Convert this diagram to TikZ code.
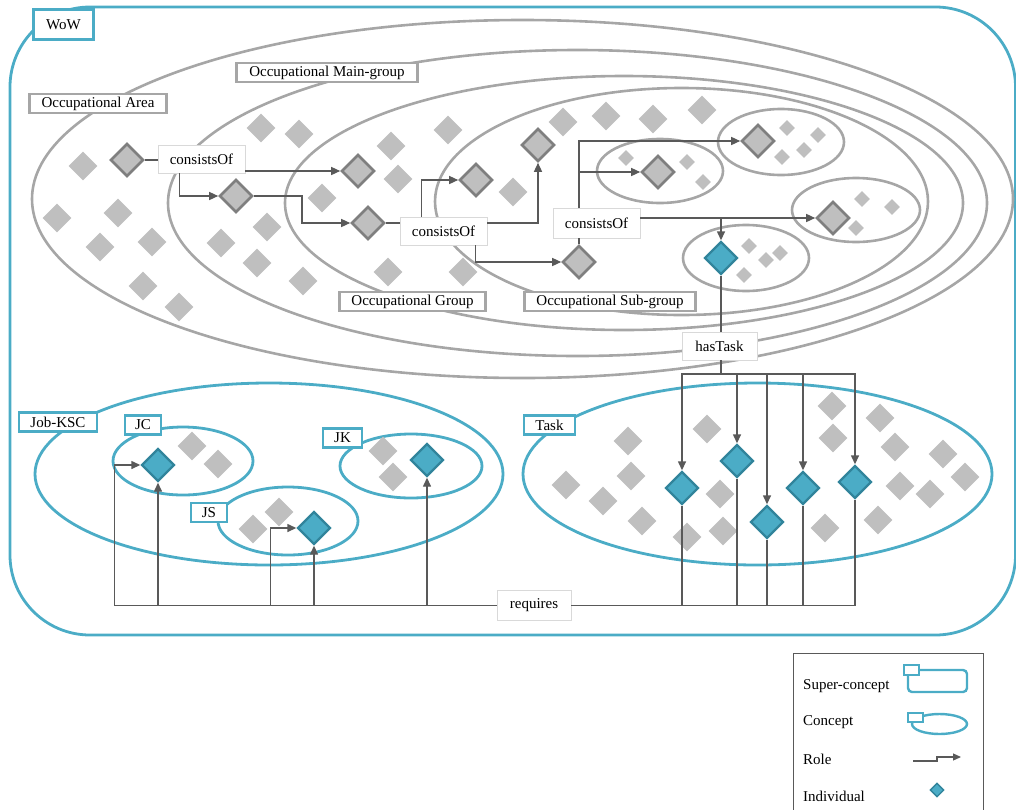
\documentclass[tikz,border=0pt]{standalone}
\usepackage{fontspec}
\setmainfont{Liberation Serif}
\usetikzlibrary{shapes.geometric,arrows.meta}
\definecolor{wowteal}{HTML}{4BACC6}
\definecolor{tealdark}{HTML}{31849B}
\definecolor{ringgray}{HTML}{A6A6A6}
\definecolor{dotgray}{HTML}{BFBFBF}
\definecolor{keygray}{HTML}{7F7F7F}
\definecolor{linkgray}{HTML}{595959}
\definecolor{boxgray}{HTML}{D9D9D9}
\begin{document}
\begin{tikzpicture}[x=1pt,y=-1pt,
  font=\fontsize{15pt}{18pt}\selectfont,
  ring/.style={draw=ringgray,line width=2.6pt},
  tring/.style={draw=wowteal,line width=2.8pt},
  glabel/.style={draw=ringgray,line width=2.6pt,fill=white,inner sep=0pt,minimum height=19pt},
  tlabel/.style={draw=wowteal,line width=2.8pt,fill=white,inner sep=0pt,minimum height=19pt},
  rolebox/.style={draw=boxgray,line width=0.9pt,fill=white,inner sep=0pt,minimum height=28pt},
  dot/.style={diamond,fill=dotgray,inner sep=0pt,minimum size=29pt},
  smalldot/.style={dot,minimum size=16pt},
  keydia/.style={diamond,fill=dotgray,draw=keygray,line width=2.6pt,inner sep=0pt,minimum size=33pt},
  inddia/.style={diamond,fill=wowteal,draw=tealdark,line width=2.4pt,inner sep=0pt,minimum size=33pt},
  link/.style={draw=linkgray,line width=1.4pt},
  arr/.style={link,-{Triangle[length=9pt,width=8pt]}},
  legtext/.style={anchor=west,inner sep=0pt}
]
\useasboundingbox (0,0) rectangle (1016,809);

% World of Work super-concept
\draw[tring,rounded corners=80pt] (10,7) rectangle (1015.5,635);

% nested occupational classification levels
\draw[ring] (522.5,199) ellipse [x radius=490.5pt, y radius=179pt];
\draw[ring] (577.5,203) ellipse [x radius=409.5pt, y radius=153pt];
\draw[ring] (624,203) ellipse [x radius=339pt, y radius=127pt];
\draw[ring] (681.5,201.5) ellipse [x radius=246.5pt, y radius=113.5pt];
% occupations
\draw[ring] (660,171) ellipse [x radius=63pt, y radius=32pt];
\draw[ring] (781,142) ellipse [x radius=63pt, y radius=33pt];
\draw[ring] (856,210) ellipse [x radius=64pt, y radius=32pt];
\draw[ring] (746,258) ellipse [x radius=63pt, y radius=33pt];

% Job-KSC and Task concepts
\draw[tring] (269,474) ellipse [x radius=234pt, y radius=91pt];
\draw[tring] (183,461) ellipse [x radius=70pt, y radius=34pt];
\draw[tring] (288,521) ellipse [x radius=70pt, y radius=34pt];
\draw[tring] (411,466) ellipse [x radius=71pt, y radius=32pt];
\draw[tring] (757.5,474) ellipse [x radius=234.5pt, y radius=91pt];

% other individuals
\foreach \px/\py [count=\i] in {83/166,57/218,118/213,100/247,152/242,143/286,179/307,
  261/128,299/134,322/198,267/227,221/243,257/263,303/281,
  448/130,391/146,398/179,513/192,388/272,463/272,
  563/122,606/116,653/119,702/110,
  192/446,218/464,383/451,393/477,279/512,253/529,
  628/441,707/429,566/485,631/476,603/501,642/521,687/537,720/494,723/531,
  832/406,833/438,880/418,895/447,943/454,965/477,900/486,930/494,825/528,878/520}
  \node[dot] (o\i) at (\px,\py) {};
\foreach \px/\py [count=\i] in {626/158,687/162,703/182,
  787/128,818/135,804/150,782/157,
  862/199,892/207,856/228,
  749/246,780/253,766/260,744/275}
  \node[smalldot] (s\i) at (\px,\py) {};

% concept labels
\node[tlabel,minimum width=60pt,minimum height=30pt] (wow) at (63.5,24.5) {WoW};
\node[glabel,minimum width=137pt] (larea) at (98,103.5) {Occupational Area};
\node[glabel,minimum width=181pt] (lmain) at (327,72.5) {Occupational Main-group};
\node[glabel,minimum width=146pt] (lgroup) at (412.5,301.5) {Occupational Group};
\node[glabel,minimum width=171pt] (lsub) at (610,301.5) {Occupational Sub-group};
\node[tlabel,minimum width=78pt] (ljob) at (58,422) {Job-KSC};
\node[tlabel,minimum width=36pt] (ljc) at (143,425) {JC};
\node[tlabel,minimum width=39pt] (ljk) at (342.5,438) {JK};
\node[tlabel,minimum width=36pt] (ljs) at (209,512.5) {JS};
\node[tlabel,minimum width=51pt] (ltask) at (549.5,425) {Task};

% linked individuals
\node[keydia] (darea) at (127,160) {};
\node[keydia] (dmain) at (236,196) {};
\node[keydia] (dg1) at (358,171) {};
\node[keydia] (dg2) at (368,223) {};
\node[keydia] (ds1) at (476,180) {};
\node[keydia] (ds2) at (538,145) {};
\node[keydia] (ds3) at (579,262) {};
\node[keydia] (de1) at (658,172) {};
\node[keydia] (de2) at (758,141) {};
\node[keydia] (de3) at (833,218) {};
\node[inddia] (de4) at (721,258) {};
\node[inddia] (jc) at (158,465) {};
\node[inddia] (js) at (314,528) {};
\node[inddia] (jk) at (427,460) {};
\node[inddia] (t1) at (682,488) {};
\node[inddia] (t2) at (737,461) {};
\node[inddia] (t3) at (767,522) {};
\node[inddia] (t4) at (803,488) {};
\node[inddia] (t5) at (855,482) {};

% roles
\node[rolebox,minimum width=87pt] (cons1) at (201.5,159) {consistsOf};
\node[rolebox,minimum width=87pt] (cons2) at (443.5,231) {consistsOf};
\node[rolebox,minimum width=87pt,minimum height=30pt] (cons3) at (596.5,223) {consistsOf};
\node[rolebox,minimum width=75pt] (hastask) at (719.5,346) {hasTask};
\node[rolebox,minimum width=74pt,minimum height=30pt] (req) at (534,605.5) {requires};

% consistsOf links
\draw[link] (darea.east) -- (darea.east -| cons1.west);
\draw[arr] (cons1.east |- dg1.west) -- (dg1.west);
\draw[arr] ([xshift=22pt]cons1.south west) |- (dmain.west);
\draw[arr] (dmain.east) -- ++(48,0) |- (dg2.west);
\draw[link] (dg2.east) -- (dg2.east -| cons2.west);
\draw[arr] ([xshift=22pt]cons2.north west) |- (ds1.west);
\draw[arr] (cons2.east |- dg2.east) -| (ds2.south);
\draw[arr] ([xshift=-12pt]cons2.south east) |- (ds3.west);
\draw[link] (ds3.north) -- (ds3.north |- cons3.south);
\draw[arr] (cons3.north -| ds3) |- (de2.west);
\draw[arr] (cons3.north -| ds3) |- (de1.west);
\draw[arr] (cons3.east |- de3.west) -- (de3.west);
\draw[arr] (cons3.east |- de3.west) -| (de4.north);

% hasTask links
\coordinate (bus) at (721,374);
\draw[link] (de4.south) -- (de4.south |- hastask.north);
\draw[link] (hastask.south -| bus) -- (bus);
\foreach \t in {t1,t2,t3,t4,t5}
  \draw[arr] (bus) -| (\t.north);

% requires links
\foreach \t in {t1,t2,t3,t4,t5}
  \draw[link] (\t.south) |- (req.east);
\draw[arr] (req.west) -| ([xshift=-26pt]jc.west) -- (jc.west);
\draw[arr] (req.west) -| (jc.south);
\draw[arr] (req.west) -| ([xshift=-26pt]js.west) -- (js.west);
\draw[arr] (req.west) -| (js.south);
\draw[arr] (req.west) -| (jk.south);

% key
\draw[draw=linkgray,line width=0.9pt] (793,653) rectangle (983,815);
\node[legtext] (k1) at (803,686) {Super-concept};
\node[legtext] (k2) at (803,722) {Concept};
\node[legtext] (k3) at (803,759) {Role};
\node[legtext] (k4) at (803,796) {Individual};
\draw[tring,line width=2.4pt,rounded corners=4pt] (908,670) rectangle (967,692);
\draw[tring,line width=2pt,fill=white] (904,665) rectangle (919,675);
\draw[tring,line width=2.4pt] (939.5,724) ellipse [x radius=27.5pt, y radius=10pt];
\draw[tring,line width=2pt,fill=white] (908,713) rectangle (923,722);
\draw[link,line width=1.2pt,-{Triangle[length=8pt,width=7pt]}] (913,761) -- (937,761) -- (937,757) -- (961,757);
\node[inddia,minimum size=14pt,line width=1.4pt] (k5) at (937,790) {};
\end{tikzpicture}
\end{document}
